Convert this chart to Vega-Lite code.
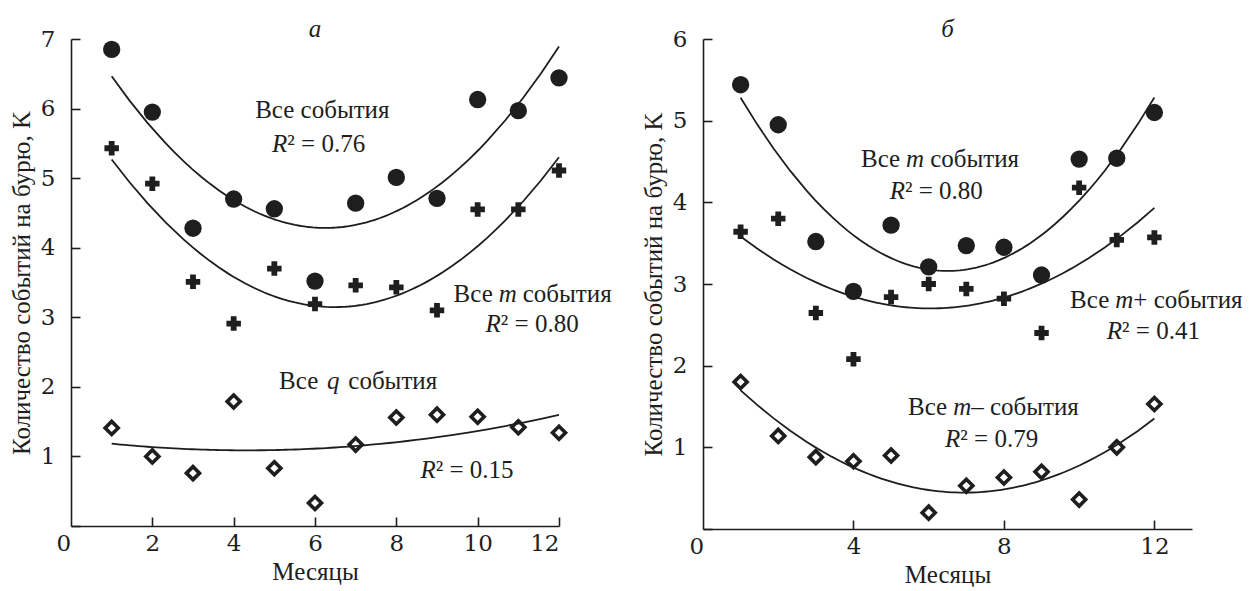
{
  "$schema": "https://vega.github.io/schema/vega-lite/v6.json",
  "background": "white",
  "padding": {"left": 9, "top": 17, "right": 0, "bottom": 0},
  "bounds": "flush",
  "spacing": 144,
  "config": {
    "view": {"stroke": null},
    "axis": {"grid": false, "domainColor": "#1e1e1e", "domainWidth": 1.6, "tickColor": "#1e1e1e", "tickWidth": 1.6, "tickSize": -9, "labelFont": "DejaVu Serif", "labelFontSize": 23, "labelColor": "#1e1e1e", "titleFont": "Liberation Serif", "titleFontSize": 25, "titleFontWeight": "normal", "titleColor": "#1e1e1e"},
    "title": {"font": "serif", "fontSize": 25, "fontStyle": "italic", "fontWeight": "normal", "color": "#1e1e1e", "offset": -14},
    "text": {"font": "Times New Roman", "fontSize": 25, "color": "#1e1e1e"}
  },
  "datasets": {
    "left": [
      {"series": "Все события", "month": 1, "value": 6.85}, {"series": "Все события", "month": 2, "value": 5.95}, {"series": "Все события", "month": 3, "value": 4.28}, {"series": "Все события", "month": 4, "value": 4.70}, {"series": "Все события", "month": 5, "value": 4.56}, {"series": "Все события", "month": 6, "value": 3.52}, {"series": "Все события", "month": 7, "value": 4.64}, {"series": "Все события", "month": 8, "value": 5.01}, {"series": "Все события", "month": 9, "value": 4.71}, {"series": "Все события", "month": 10, "value": 6.13}, {"series": "Все события", "month": 11, "value": 5.97}, {"series": "Все события", "month": 12, "value": 6.44},
      {"series": "Все m события", "month": 1, "value": 5.43}, {"series": "Все m события", "month": 2, "value": 4.92}, {"series": "Все m события", "month": 3, "value": 3.51}, {"series": "Все m события", "month": 4, "value": 2.91}, {"series": "Все m события", "month": 5, "value": 3.70}, {"series": "Все m события", "month": 6, "value": 3.19}, {"series": "Все m события", "month": 7, "value": 3.46}, {"series": "Все m события", "month": 8, "value": 3.43}, {"series": "Все m события", "month": 9, "value": 3.10}, {"series": "Все m события", "month": 10, "value": 4.55}, {"series": "Все m события", "month": 11, "value": 4.55}, {"series": "Все m события", "month": 12, "value": 5.11},
      {"series": "Все q события", "month": 1, "value": 1.41}, {"series": "Все q события", "month": 2, "value": 1.00}, {"series": "Все q события", "month": 3, "value": 0.76}, {"series": "Все q события", "month": 4, "value": 1.79}, {"series": "Все q события", "month": 5, "value": 0.83}, {"series": "Все q события", "month": 6, "value": 0.33}, {"series": "Все q события", "month": 7, "value": 1.17}, {"series": "Все q события", "month": 8, "value": 1.56}, {"series": "Все q события", "month": 9, "value": 1.60}, {"series": "Все q события", "month": 10, "value": 1.57}, {"series": "Все q события", "month": 11, "value": 1.42}, {"series": "Все q события", "month": 12, "value": 1.34}
    ],
    "right": [
      {"series": "Все m события", "month": 1, "value": 5.44}, {"series": "Все m события", "month": 2, "value": 4.95}, {"series": "Все m события", "month": 3, "value": 3.52}, {"series": "Все m события", "month": 4, "value": 2.91}, {"series": "Все m события", "month": 5, "value": 3.72}, {"series": "Все m события", "month": 6, "value": 3.21}, {"series": "Все m события", "month": 7, "value": 3.47}, {"series": "Все m события", "month": 8, "value": 3.45}, {"series": "Все m события", "month": 9, "value": 3.11}, {"series": "Все m события", "month": 10, "value": 4.53}, {"series": "Все m события", "month": 11, "value": 4.54}, {"series": "Все m события", "month": 12, "value": 5.10},
      {"series": "Все m+ события", "month": 1, "value": 3.64}, {"series": "Все m+ события", "month": 2, "value": 3.80}, {"series": "Все m+ события", "month": 3, "value": 2.645}, {"series": "Все m+ события", "month": 4, "value": 2.08}, {"series": "Все m+ события", "month": 5, "value": 2.84}, {"series": "Все m+ события", "month": 6, "value": 3.00}, {"series": "Все m+ события", "month": 7, "value": 2.94}, {"series": "Все m+ события", "month": 8, "value": 2.82}, {"series": "Все m+ события", "month": 9, "value": 2.40}, {"series": "Все m+ события", "month": 10, "value": 4.18}, {"series": "Все m+ события", "month": 11, "value": 3.54}, {"series": "Все m+ события", "month": 12, "value": 3.57},
      {"series": "Все m– события", "month": 1, "value": 1.80}, {"series": "Все m– события", "month": 2, "value": 1.14}, {"series": "Все m– события", "month": 3, "value": 0.88}, {"series": "Все m– события", "month": 4, "value": 0.83}, {"series": "Все m– события", "month": 5, "value": 0.90}, {"series": "Все m– события", "month": 6, "value": 0.20}, {"series": "Все m– события", "month": 7, "value": 0.53}, {"series": "Все m– события", "month": 8, "value": 0.63}, {"series": "Все m– события", "month": 9, "value": 0.70}, {"series": "Все m– события", "month": 10, "value": 0.36}, {"series": "Все m– события", "month": 11, "value": 1.00}, {"series": "Все m– события", "month": 12, "value": 1.53}
    ],
    "labels": [
      {"panel": "а", "kind": "plain", "month": 6.18, "value": 5.98, "pre": "", "v": "", "post": "Все события"},
      {"panel": "а", "kind": "R", "month": 5.32, "value": 5.49, "pre": "", "v": "R", "post": "² = 0.76"},
      {"panel": "а", "kind": "B", "month": 10.74, "value": 3.33, "pre": "Все", "v": "m", "post": "события"},
      {"panel": "а", "kind": "R", "month": 10.57, "value": 2.90, "pre": "", "v": "R", "post": "² = 0.80"},
      {"panel": "а", "kind": "B", "month": 6.45, "value": 2.09, "pre": "Все", "v": "q", "post": "события"},
      {"panel": "а", "kind": "R", "month": 8.97, "value": 0.81, "pre": "", "v": "R", "post": "² = 0.15"},
      {"panel": "б", "kind": "B", "month": 5.64, "value": 4.53, "pre": "Все", "v": "m", "post": "события"},
      {"panel": "б", "kind": "R", "month": 5.37, "value": 4.14, "pre": "", "v": "R", "post": "² = 0.80"},
      {"panel": "б", "kind": "B", "month": 11.20, "value": 2.81, "pre": "Все", "v": "m", "post": "+ события"},
      {"panel": "б", "kind": "R", "month": 11.14, "value": 2.42, "pre": "", "v": "R", "post": "² = 0.41"},
      {"panel": "б", "kind": "B", "month": 6.89, "value": 1.49, "pre": "Все", "v": "m", "post": "– события"},
      {"panel": "б", "kind": "R", "month": 6.84, "value": 1.10, "pre": "", "v": "R", "post": "² = 0.79"}
    ]
  },
  "hconcat": [
    {
      "width": 488, "height": 487,
      "title": "а",
      "encoding": {
        "x": {"field": "month", "type": "quantitative", "scale": {"domain": [0, 12], "nice": false},
              "axis": {"values": [0, 2, 4, 6, 8, 10, 12], "title": "Месяцы", "labelPadding": 15, "titlePadding": 4,
                       "labelOffset": {"condition": {"test": "datum.value == 0", "value": -15}, "value": 0},
                       "tickOpacity": {"condition": {"test": "datum.value == 0", "value": 0}, "value": 1}}},
        "y": {"field": "value", "type": "quantitative", "scale": {"domain": [0, 7], "nice": false},
              "axis": {"values": [0, 1, 2, 3, 4, 5, 6, 7], "labelExpr": "datum.value == 0 ? '' : datum.label", "title": "Количество событий на бурю, K", "labelPadding": 25, "titlePadding": 6}}
      },
      "layer": [
        {"data": {"name": "left"}, "transform": [{"regression": "value", "on": "month", "groupby": ["series"], "method": "poly", "order": 2, "extent": [1, 12]}],
         "mark": {"type": "line", "color": "#1e1e1e", "strokeWidth": 1.8}, "encoding": {"detail": {"field": "series"}}},
        {"data": {"name": "left"}, "transform": [{"filter": "datum.series == 'Все события'"}], "mark": {"type": "point", "shape": "circle", "filled": true, "size": 300, "color": "#1e1e1e", "opacity": 1}},
        {"data": {"name": "left"}, "transform": [{"filter": "datum.series == 'Все m события'"}], "mark": {"type": "point", "shape": "cross", "filled": true, "size": 210, "color": "#1e1e1e", "opacity": 1}},
        {"data": {"name": "left"}, "transform": [{"filter": "datum.series == 'Все q события'"}], "mark": {"type": "point", "shape": "diamond", "filled": false, "size": 170, "strokeWidth": 3.6, "color": "#1e1e1e", "opacity": 1}},
        {"data": {"name": "labels"}, "transform": [{"filter": "datum.panel == 'а' && datum.kind == 'plain'"}], "mark": {"type": "text", "align": "center", "baseline": "middle"}, "encoding": {"text": {"field": "post"}}},
        {"data": {"name": "labels"}, "transform": [{"filter": "datum.panel == 'а' && datum.kind == 'B'"}], "mark": {"type": "text", "align": "right", "baseline": "middle", "dx": -15}, "encoding": {"text": {"field": "pre"}}},
        {"data": {"name": "labels"}, "transform": [{"filter": "datum.panel == 'а' && datum.kind == 'B'"}], "mark": {"type": "text", "align": "center", "baseline": "middle", "fontStyle": "italic"}, "encoding": {"text": {"field": "v"}}},
        {"data": {"name": "labels"}, "transform": [{"filter": "datum.panel == 'а' && datum.kind == 'B'"}], "mark": {"type": "text", "align": "left", "baseline": "middle", "dx": 15}, "encoding": {"text": {"field": "post"}}},
        {"data": {"name": "labels"}, "transform": [{"filter": "datum.panel == 'а' && datum.kind == 'R'"}], "mark": {"type": "text", "align": "right", "baseline": "middle", "fontStyle": "italic"}, "encoding": {"text": {"field": "v"}}},
        {"data": {"name": "labels"}, "transform": [{"filter": "datum.panel == 'а' && datum.kind == 'R'"}], "mark": {"type": "text", "align": "left", "baseline": "middle"}, "encoding": {"text": {"field": "post"}}}
      ]
    },
    {
      "width": 489, "height": 490,
      "title": "б",
      "encoding": {
        "x": {"field": "month", "type": "quantitative", "scale": {"domain": [0, 13], "nice": false},
              "axis": {"values": [0, 4, 8, 12], "title": "Месяцы", "labelPadding": 15, "titlePadding": 4,
                       "labelOffset": {"condition": {"test": "datum.value == 0", "value": -14}, "value": 0},
                       "tickOpacity": {"condition": {"test": "datum.value == 0", "value": 0}, "value": 1}}},
        "y": {"field": "value", "type": "quantitative", "scale": {"domain": [0, 6], "nice": false},
              "axis": {"values": [0, 1, 2, 3, 4, 5, 6], "labelExpr": "datum.value == 0 ? '' : datum.label", "title": "Количество событий на бурю, K", "labelPadding": 25, "titlePadding": 6}}
      },
      "layer": [
        {"data": {"name": "right"}, "transform": [{"regression": "value", "on": "month", "groupby": ["series"], "method": "poly", "order": 2, "extent": [1, 12]}],
         "mark": {"type": "line", "color": "#1e1e1e", "strokeWidth": 1.8}, "encoding": {"detail": {"field": "series"}}},
        {"data": {"name": "right"}, "transform": [{"filter": "datum.series == 'Все m события'"}], "mark": {"type": "point", "shape": "circle", "filled": true, "size": 300, "color": "#1e1e1e", "opacity": 1}},
        {"data": {"name": "right"}, "transform": [{"filter": "datum.series == 'Все m+ события'"}], "mark": {"type": "point", "shape": "cross", "filled": true, "size": 210, "color": "#1e1e1e", "opacity": 1}},
        {"data": {"name": "right"}, "transform": [{"filter": "datum.series == 'Все m– события'"}], "mark": {"type": "point", "shape": "diamond", "filled": false, "size": 170, "strokeWidth": 3.6, "color": "#1e1e1e", "opacity": 1}},
        {"data": {"name": "labels"}, "transform": [{"filter": "datum.panel == 'б' && datum.kind == 'B'"}], "mark": {"type": "text", "align": "right", "baseline": "middle", "dx": -15}, "encoding": {"text": {"field": "pre"}}},
        {"data": {"name": "labels"}, "transform": [{"filter": "datum.panel == 'б' && datum.kind == 'B'"}], "mark": {"type": "text", "align": "center", "baseline": "middle", "fontStyle": "italic"}, "encoding": {"text": {"field": "v"}}},
        {"data": {"name": "labels"}, "transform": [{"filter": "datum.panel == 'б' && datum.kind == 'B' && datum.post == 'события'"}], "mark": {"type": "text", "align": "left", "baseline": "middle", "dx": 15}, "encoding": {"text": {"field": "post"}}},
        {"data": {"name": "labels"}, "transform": [{"filter": "datum.panel == 'б' && datum.kind == 'B' && datum.post != 'события'"}], "mark": {"type": "text", "align": "left", "baseline": "middle", "dx": 9}, "encoding": {"text": {"field": "post"}}},
        {"data": {"name": "labels"}, "transform": [{"filter": "datum.panel == 'б' && datum.kind == 'R'"}], "mark": {"type": "text", "align": "right", "baseline": "middle", "fontStyle": "italic"}, "encoding": {"text": {"field": "v"}}},
        {"data": {"name": "labels"}, "transform": [{"filter": "datum.panel == 'б' && datum.kind == 'R'"}], "mark": {"type": "text", "align": "left", "baseline": "middle"}, "encoding": {"text": {"field": "post"}}}
      ]
    }
  ]
}
